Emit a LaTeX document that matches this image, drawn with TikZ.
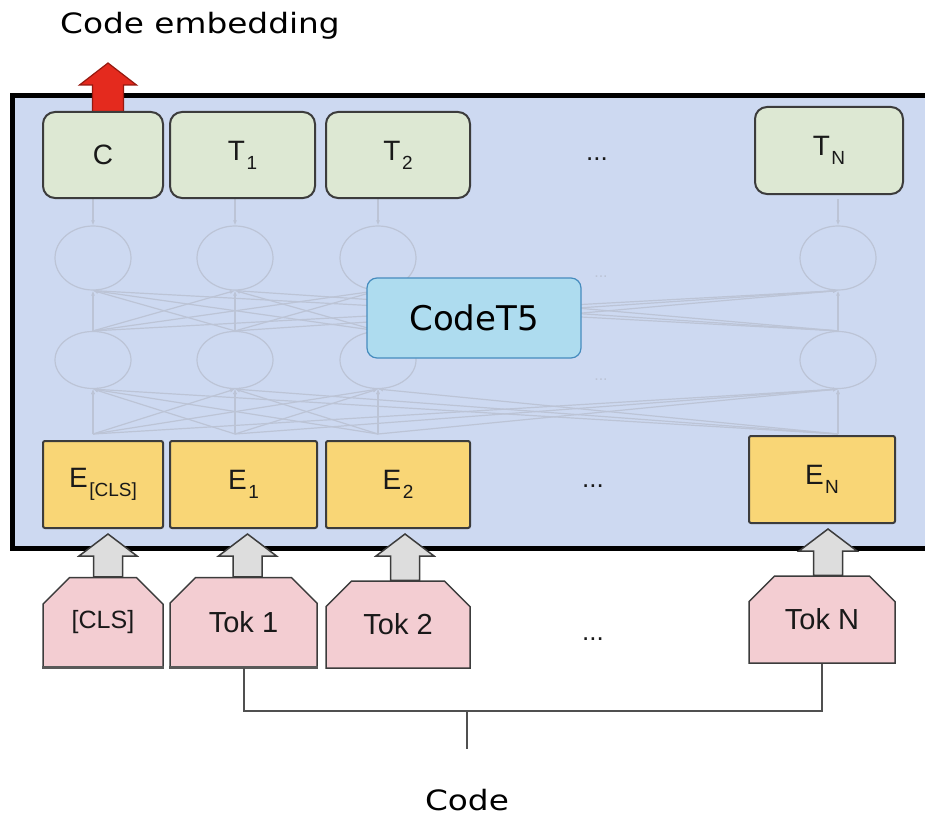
\documentclass[tikz,border=0pt]{standalone}
\usepackage{fontspec}
\setmainfont{Liberation Sans}
\newfontfamily\handfont[FakeStretch=1.17]{DejaVu Sans}
\newfontfamily\modelfont{DejaVu Sans}
\usetikzlibrary{calc,shapes.misc,shapes.geometric,arrows.meta}

\definecolor{panelblue}{RGB}{205,217,241}
\definecolor{outgreen}{RGB}{221,232,211}
\definecolor{embyellow}{RGB}{249,214,118}
\definecolor{tokpink}{RGB}{243,205,210}
\definecolor{modelblue}{RGB}{174,220,239}
\definecolor{modelline}{RGB}{70,140,190}
\definecolor{boxline}{RGB}{60,60,60}
\definecolor{netgray}{RGB}{188,196,214}
\definecolor{arrowgray}{RGB}{221,221,221}
\definecolor{outred}{RGB}{228,42,30}
\definecolor{outredline}{RGB}{150,25,15}
\definecolor{inkblack}{RGB}{25,25,25}

% label with a lowered index, e.g. T_1
\newcommand\idx[2]{#1\kern1.5pt\raisebox{-9pt}{\fontsize{19}{19}\selectfont #2}}

% block arrow pointing up from node #1 to node #2, shifted right by #3
\newcommand\blockup[3]{%
  \coordinate (ba) at ($(#2.south)+(#3,5)$);
  \coordinate (bb) at (ba |- #1.north);
  \draw[grayarrow] ($(bb)+(-14.5,0)$) -- ($(ba)+(-14.5,22)$) -- ($(ba)+(-29,22)$)
    -- (ba) -- ($(ba)+(29,22)$) -- ($(ba)+(14.5,22)$) -- ($(bb)+(14.5,0)$) -- cycle;
}

\begin{document}
\begin{tikzpicture}[x=1pt,y=-1pt,
  outbox/.style={draw=boxline,line width=2pt,fill=outgreen,rounded corners=12pt,
    minimum height=86pt,inner sep=0pt,text=inkblack,font=\fontsize{28}{30}\selectfont},
  embbox/.style={draw=boxline,line width=2pt,fill=embyellow,rounded corners=2pt,
    minimum height=87pt,inner sep=0pt,text=inkblack,font=\fontsize{28}{30}\selectfont},
  tokbox/.style={draw=boxline,line width=1.5pt,fill=tokpink,chamfered rectangle,
    chamfered rectangle corners={north west,north east},
    chamfered rectangle xsep=12pt,chamfered rectangle ysep=15pt,
    minimum height=90pt,inner sep=0pt,text=inkblack,font=\fontsize{29}{31}\selectfont},
  tokbase/.style={draw=boxline!85,line width=3.5pt},
  neuron/.style={ellipse,draw=netgray,line width=1.2pt,minimum width=76pt,inner sep=0pt},
  net/.style={draw=netgray,line width=1.2pt,-{Latex[length=5pt,width=4pt]}},
  grayarrow/.style={fill=arrowgray,draw=boxline,line width=1.5pt,line join=miter},
  redarrow/.style={fill=outred,draw=outredline,line width=1.2pt,line join=miter},
  bracket/.style={draw=boxline!90,line width=2pt},
  dotsl/.style={text=inkblack,font=\fontsize{26}{28}\selectfont},
  hand/.style={text=black,font=\handfont\fontsize{28}{32}\selectfont}]

\useasboundingbox (0,0) rectangle (925,821);

% encoder panel
\draw[fill=panelblue,line width=5pt] (12.5,95.5) rectangle (945,548);

% faint transformer layers
\foreach \n/\xx in {1/93,2/235,3/378,4/838} {
  \node[neuron,minimum height=64pt] (u\n) at (\xx,258) {};
  \node[neuron,minimum height=57pt] (l\n) at (\xx,360) {};
  \coordinate (b\n) at (\xx,434);
  \coordinate (o\n) at (\xx,199);
}
\foreach \i in {1,2,3,4} {
  \foreach \j in {1,2,3,4} {
    \draw[net] (l\i.north) -- (u\j.south);
    \draw[net] (b\i) -- (l\j.south);
  }
  \draw[net] (o\i) -- (u\i.north);
  \draw[net] (b\i) -- (l\i.south);
}
\node[text=netgray,font=\fontsize{16}{16}\selectfont] (nd1) at (601,277) {...};
\node[text=netgray,font=\fontsize{16}{16}\selectfont] (nd2) at (601,380) {...};

% model name
\node[draw=modelline,line width=1.2pt,fill=modelblue,rounded corners=10pt,
  minimum width=214pt,minimum height=80pt,inner sep=0pt,text=black,
  font=\modelfont\fontsize{34}{38}\selectfont] (model) at (474,318) {CodeT5};

% red output arrow from the C box
\coordinate (ra) at (108,63);
\coordinate (rb) at (108,114);
\draw[redarrow] ($(rb)+(-15.5,0)$) -- ($(ra)+(-15.5,22)$) -- ($(ra)+(-28.5,22)$)
  -- (ra) -- ($(ra)+(28.5,22)$) -- ($(ra)+(15.5,22)$) -- ($(rb)+(15.5,0)$) -- cycle;

% output boxes
\node[outbox,minimum width=120pt] (c)  at (103,155) {C};
\node[outbox,minimum width=145pt] (t1) at (242.5,155) {\idx{T}{1}};
\node[outbox,minimum width=144pt] (t2) at (398,155) {\idx{T}{2}};
\node[outbox,minimum width=148pt,minimum height=87pt] (tn) at (829,150.5) {\idx{T}{N}};
\node[dotsl] (tdots) at (597,159) {...};

% embedding boxes
\node[embbox,minimum width=120pt] (e0) at (103,484.5) {\idx{E}{[CLS]}};
\node[embbox,minimum width=147pt] (e1) at (243.5,484.5) {\idx{E}{1}};
\node[embbox,minimum width=144pt] (e2) at (398,484.5) {\idx{E}{2}};
\node[embbox,minimum width=146pt] (en) at (822,479.5) {\idx{E}{N}};
\node[dotsl] (edots) at (593,486) {...};

% token boxes
\node[tokbox,minimum width=120pt,font=\fontsize{25}{27}\selectfont] (k0) at (103,622.5) {[CLS]};
\node[tokbox,minimum width=147pt] (k1) at (243.5,622.5) {Tok 1};
\node[tokbox,minimum width=144pt,minimum height=87pt] (k2) at (398,624.5) {Tok 2};
\node[tokbox,minimum width=146pt,minimum height=87pt] (kn) at (822,619.5) {Tok N};
\node[dotsl] (kdots) at (593,639) {...};
\foreach \k in {k0,k1} {
  \draw[tokbase] ($(\k.south west)+(0,-1)$) -- ($(\k.south east)+(0,-1)$);
}

% input arrows
\blockup{k0}{e0}{5}
\blockup{k1}{e1}{4}
\blockup{k2}{e2}{7}
\blockup{kn}{en}{6}

% input bracket
\coordinate (bj) at (467,711);
\coordinate (code) at (467,749);
\draw[bracket] (k1.south) -- (k1.south |- bj) -- (kn.south |- bj) -- (kn.south);
\draw[bracket] (bj) -- (code);

% captions
\node[hand] (codelbl) at (467,800) {Code};
\node[hand] (emblbl) at (200,26) {Code embedding};
\end{tikzpicture}
\end{document}
